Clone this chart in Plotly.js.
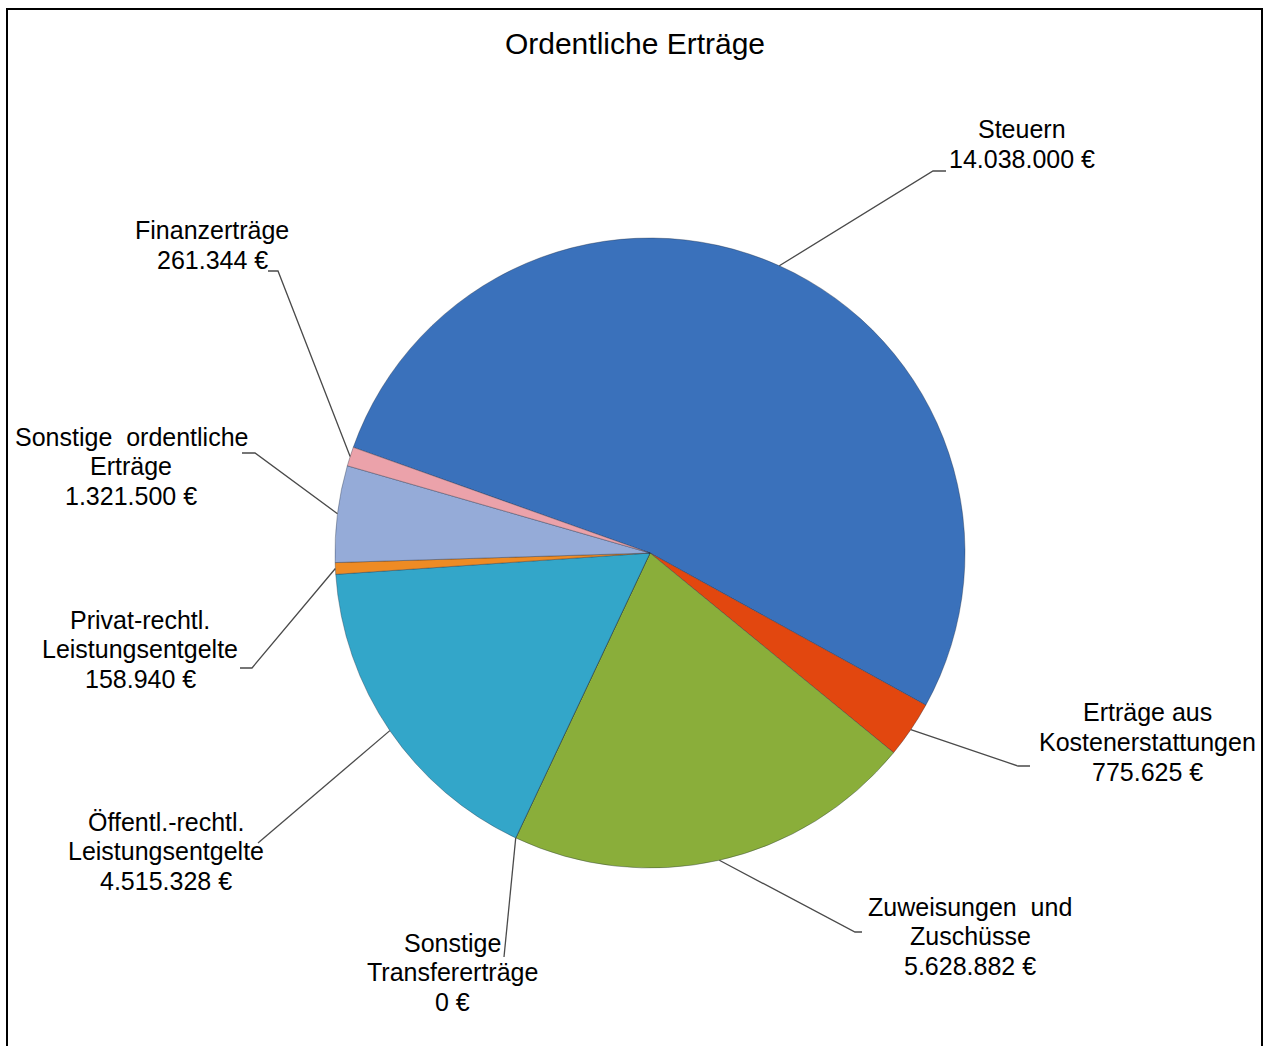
<!DOCTYPE html>
<html>
<head>
<meta charset="utf-8">
<script src="https://cdn.plot.ly/plotly-3.0.1.min.js"></script>
<style>
  html, body { margin: 0; padding: 0; background: #ffffff; }
  #chart { width: 1266px; height: 1046px; }
</style>
</head>
<body>
<div id="chart"></div>
<script>
// ---- data ----
const categories = [
  'Steuern',
  'Erträge aus Kostenerstattungen',
  'Zuweisungen und Zuschüsse',
  'Sonstige Transfererträge',
  'Öffentl.-rechtl. Leistungsentgelte',
  'Privat-rechtl. Leistungsentgelte',
  'Sonstige ordentliche Erträge',
  'Finanzerträge'
];
const labelLines = [
  ['Steuern'],
  ['Erträge aus', 'Kostenerstattungen'],
  ['Zuweisungen  und', 'Zuschüsse'],
  ['Sonstige', 'Transfererträge'],
  ['Öffentl.-rechtl.', 'Leistungsentgelte'],
  ['Privat-rechtl.', 'Leistungsentgelte'],
  ['Sonstige  ordentliche', 'Erträge'],
  ['Finanzerträge']
];
const values = [14038000, 775625, 5628882, 0, 4515328, 158940, 1321500, 261344];
const chartTitle = 'Ordentliche Erträge';

// ---- styling / layout ----
const colors = ['#3a71bb', '#e2470f', '#8aae3a', '#2f8fb0', '#33a6c9', '#ee8b24', '#95abd8', '#eba2aa'];
const W = 1266, H = 1046;
const CX = 650, CY = 553, R = 315;
const ROT = -70.4;           // start angle of first slice, clockwise from 12 o'clock
const FONT = 'Liberation Sans, Arial, sans-serif';
const LINE_H = 29.5;

// label placement (pixel positions of text block centre, elbow and end of leader)
const labelPos = [
  {tx: 1022, ty: 144, ex: 933, ey: 171, hx: 946},
  {tx: 1147, ty: 742, ex: 1018, ey: 766, hx: 1030},
  {tx: 970,  ty: 936, ex: 855, ey: 932, hx: 862},
  {tx: 453,  ty: 972, ex: 504, ey: 957, hx: 504},
  {tx: 166,  ty: 851, ex: 258, ey: 843, hx: 258},
  {tx: 140,  ty: 649, ex: 252, ey: 668, hx: 240},
  {tx: 131,  ty: 466, ex: 255, ey: 453, hx: 242},
  {tx: 212,  ty: 245, ex: 278, ey: 271, hx: 268}
];

const px = x => x / W;
const py = y => 1 - y / H;
const fmt = v => String(v).replace(/\B(?=(\d{3})+(?!\d))/g, '.') + ' €';

const total = values.reduce((a, b) => a + b, 0);
let cum = 0;
const shapes = [];
const annotations = [];
values.forEach((v, i) => {
  const mid = (ROT + (cum + v / 2) / total * 360) * Math.PI / 180;
  cum += v;
  const rx = CX + R * Math.sin(mid);
  const ry = CY - R * Math.cos(mid);
  const p = labelPos[i];
  shapes.push({
    type: 'path', xref: 'paper', yref: 'paper',
    path: `M ${px(rx)},${py(ry)} L ${px(p.ex)},${py(p.ey)} L ${px(p.hx)},${py(p.ey)}`,
    line: {color: '#4a4a4a', width: 1.3}
  });
  const lines = labelLines[i].concat([fmt(v)]);
  lines.forEach((t, k) => {
    annotations.push({
      xref: 'paper', yref: 'paper', x: px(p.tx),
      y: py(p.ty + (k - (lines.length - 1) / 2) * LINE_H),
      xanchor: 'center', yanchor: 'middle', showarrow: false, align: 'center',
      text: t,
      font: {family: FONT, size: 25, color: '#000000'}
    });
  });
});

// frame
shapes.push({
  type: 'path', xref: 'paper', yref: 'paper',
  path: `M ${px(7)},${py(1060)} L ${px(7)},${py(9)} L ${px(1262)},${py(9)} L ${px(1262)},${py(1060)}`,
  line: {color: '#000000', width: 2}
});

const trace = {
  type: 'pie',
  labels: categories,
  values: values,
  sort: false,
  direction: 'clockwise',
  rotation: ROT,
  textinfo: 'none',
  textposition: 'none',
  hoverinfo: 'label+value',
  showlegend: false,
  marker: {colors: colors, line: {color: 'rgba(30,40,60,0.35)', width: 1}},
  domain: {x: [px(CX - R), px(CX + R)], y: [py(CY + R), py(CY - R)]}
};

const layout = {
  width: W, height: H,
  margin: {l: 0, r: 0, t: 0, b: 0},
  paper_bgcolor: '#ffffff',
  title: {text: chartTitle, x: 635 / W, xanchor: 'center', y: py(43), yanchor: 'middle',
          font: {family: FONT, size: 30, color: '#000000'}},
  shapes: shapes,
  annotations: annotations
};

Plotly.newPlot('chart', [trace], layout, {displayModeBar: false, staticPlot: true});
</script>
</body>
</html>
